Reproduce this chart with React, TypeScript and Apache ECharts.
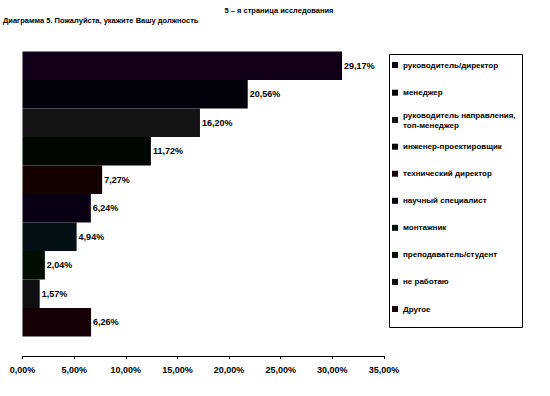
import React, { useEffect, useRef } from "react";
import * as echarts from "echarts";

const categories = [
  "руководитель/директор",
  "менеджер",
  "руководитель направления,\nтоп-менеджер",
  "инженер-проектировщик",
  "технический директор",
  "научный специалист",
  "монтажник",
  "преподаватель/студент",
  "не работаю",
  "Другое",
];
const values = [29.17, 20.56, 16.2, 11.72, 7.27, 6.24, 4.94, 2.04, 1.57, 6.26];
const colors = [
  "#110018",
  "#03000c",
  "#151315",
  "#000600",
  "#140200",
  "#0a0014",
  "#011115",
  "#000e00",
  "#0f0f11",
  "#140005",
];
const titleText = "5 – я страница исследования";
const subtitleText = "Диаграмма 5. Пожалуйста, укажите Вашу должность";

const FONT = "'Liberation Sans', Arial, sans-serif";
const fmt = (v: number) => v.toFixed(2).replace(".", ",") + "%";

export default function App() {
  const ref = useRef<HTMLDivElement>(null);
  useEffect(() => {
    if (!ref.current) return;
    const chart = echarts.init(ref.current, undefined, { renderer: "svg" });
    const legendText = {
      fontFamily: FONT,
      fontSize: 8,
      fontWeight: "bold" as const,
      color: "#000",
      lineHeight: 10,
    };
    const legendBase = {
      orient: "vertical" as const,
      left: 392,
      padding: 0,
      icon: "rect",
      itemWidth: 6,
      itemHeight: 6,
      itemGap: 17,
      selectedMode: false,
      textStyle: legendText,
    };
    chart.setOption({
      animation: false,
      backgroundColor: "#fff",
      title: [
        {
          text: titleText,
          left: 279,
          textAlign: "center",
          top: 6,
          padding: 0,
          textStyle: { fontFamily: FONT, fontSize: 7.5, fontWeight: "bold", color: "#000" },
        },
        {
          text: subtitleText,
          left: 3,
          top: 16,
          padding: 0,
          textStyle: { fontFamily: FONT, fontSize: 7.5, fontWeight: "bold", color: "#000" },
        },
      ],
      legend: [
        { ...legendBase, top: 60, itemGap: 17.7, data: categories.slice(0, 2) },
        {
          ...legendBase,
          top: 105,
          data: categories.slice(2, 3),
          textStyle: { ...legendText, padding: [10, 0, 0, 0] },
        },
        { ...legendBase, top: 141.7, itemGap: 17.05, data: categories.slice(3) },
      ],
      graphic: [
        {
          type: "rect",
          shape: { x: 389.5, y: 54.5, width: 133, height: 273 },
          style: { fill: "none", stroke: "#000", lineWidth: 1 },
          silent: true,
        },
      ],
      grid: { left: 22.5, right: 166, top: 32, bottom: 40, containLabel: false },
      xAxis: [
        {
          type: "value",
          min: 0,
          max: 35,
          interval: 5,
          axisLine: { show: true, lineStyle: { color: "#000", width: 1 } },
          axisTick: { show: true, length: 3, lineStyle: { color: "#000" } },
          splitLine: { show: false },
          axisLabel: {
            margin: 9,
            fontFamily: FONT,
            fontSize: 9,
            fontWeight: "bold",
            color: "#000",
            formatter: (v: number) => fmt(v),
          },
        },
        { type: "value", min: 0, max: 33, show: false },
      ],
      yAxis: {
        type: "category",
        data: [""],
        show: false,
      },
      series: categories.map((name, i) => ({
        type: "bar",
        name,
        xAxisIndex: 1,
        data: [values[i]],
        barGap: "0%",
        barCategoryGap: "12%",
        itemStyle: { color: colors[i] },
        label: {
          show: true,
          position: "right",
          distance: 2,
          fontFamily: FONT,
          fontSize: 9,
          fontWeight: "bold",
          color: "#000",
          formatter: (p: any) => fmt(p.value),
        },
      })),
    });
    return () => chart.dispose();
  }, []);
  return (
    <div
      ref={ref}
      style={{ position: "fixed", left: 0, top: 0, width: 550, height: 396 }}
    />
  );
}
